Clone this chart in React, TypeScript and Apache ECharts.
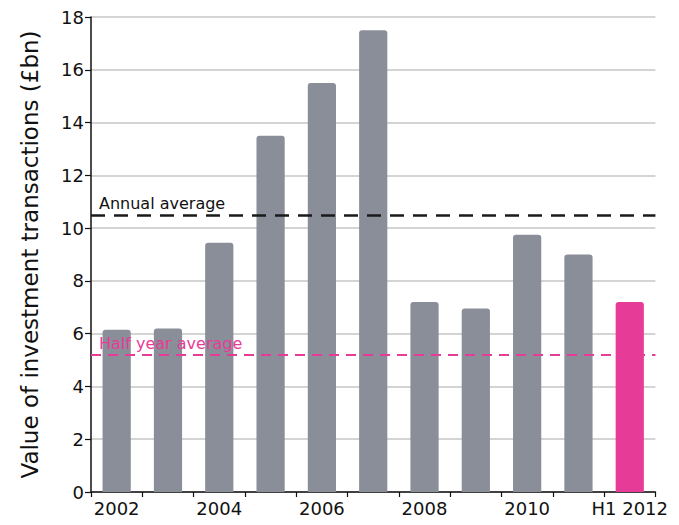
import React, { useEffect, useRef } from "react";
import * as echarts from "echarts";

const categories = ["2002", "2003", "2004", "2005", "2006", "2007", "2008", "2009", "2010", "2011", "H1 2012"];
const values = [6.15, 6.2, 9.45, 13.5, 15.5, 17.5, 7.2, 6.95, 9.75, 9.0, 7.2];
const highlighted = ["H1 2012"];
const annualAverage = 10.5;
const halfYearAverage = 5.2;
const yTicks = { min: 0, max: 18, interval: 2 };

const GREY = "#8a8e98";
const PINK = "#e63c97";
const FONT = "DejaVu Sans";

export default function App() {
  const ref = useRef<HTMLDivElement>(null);

  useEffect(() => {
    if (!ref.current) return;
    const chart = echarts.init(ref.current, undefined, { renderer: "svg" });
    chart.setOption({
      animation: false,
      grid: { left: 83, right: 15, top: 9, bottom: 24 },
      xAxis: {
        type: "category",
        data: categories,
        boundaryGap: true,
        axisLine: { lineStyle: { color: "#111", width: 1.5 } },
        axisTick: { show: true, interval: 0, length: 5, lineStyle: { color: "#111", width: 1.2 } },
        axisLabel: {
          interval: 1,
          color: "#111",
          fontFamily: FONT,
          fontSize: 18,
          margin: 7,
        },
      },
      yAxis: {
        type: "value",
        min: yTicks.min,
        max: yTicks.max,
        interval: yTicks.interval,
        name: "Value of investment transactions (£bn)",
        nameLocation: "middle",
        nameGap: 50,
        nameTextStyle: { color: "#111", fontFamily: FONT, fontSize: 23 },
        axisLine: { show: true, lineStyle: { color: "#111", width: 1.5 } },
        axisTick: { show: true, length: 6, lineStyle: { color: "#111", width: 1.2 } },
        axisLabel: { color: "#111", fontFamily: FONT, fontSize: 18, margin: 7 },
        splitLine: { lineStyle: { color: "#c6c6c6", width: 1.5 } },
      },
      series: [
        {
          type: "bar",
          barWidth: "55%",
          data: values.map((v, i) => ({
            value: v,
            itemStyle: {
              color: highlighted.includes(categories[i]) ? PINK : GREY,
              borderRadius: [3, 3, 0, 0],
            },
          })),
          markLine: {
            silent: true,
            symbol: "none",
            data: [
              {
                yAxis: annualAverage,
                lineStyle: { color: "#1a1a1a", width: 2.5, type: [14, 9] },
                label: {
                  formatter: "Annual average",
                  position: "insideStartTop",
                  color: "#111",
                  fontFamily: FONT,
                  fontSize: 16,
                  distance: [8, 3],
                },
              },
              {
                yAxis: halfYearAverage,
                lineStyle: { color: PINK, width: 2, type: [10, 7] },
                label: {
                  formatter: "Half year average",
                  position: "insideStartTop",
                  color: PINK,
                  fontFamily: FONT,
                  fontSize: 16,
                  distance: [8, 3],
                },
              },
            ],
          },
        },
      ],
    });
    return () => chart.dispose();
  }, []);

  return <div ref={ref} style={{ width: 663, height: 509 }} />;
}
